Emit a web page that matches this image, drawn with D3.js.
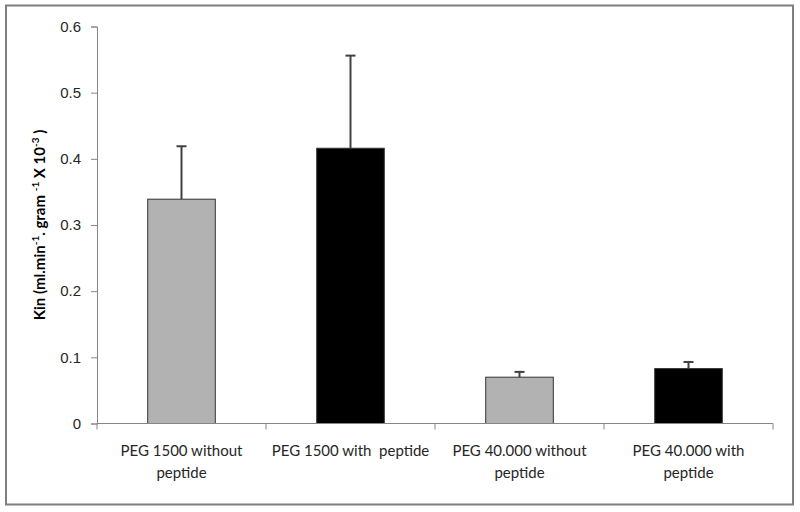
<!DOCTYPE html>
<html>
<head>
<meta charset="utf-8">
<script src="https://cdn.jsdelivr.net/npm/d3@7"></script>
<style>
  body { margin: 0; background: #fff; }
  svg { font-family: Lato, "Open Sans", sans-serif; }
</style>
</head>
<body>
<div id="chart"></div>
<script>
// categories (two-line labels), means and error bar tops
var categories = ["PEG 1500 without peptide", "PEG 1500 with peptide", "PEG 40.000 without peptide", "PEG 40.000 with peptide"];
var labelLines = [["PEG 1500 without", "peptide"], ["PEG 1500 with  peptide"], ["PEG 40.000 without", "peptide"], ["PEG 40.000 with", "peptide"]];
var values = [0.339, 0.416, 0.070, 0.083];
var errors = [0.080, 0.140, 0.008, 0.010];
var barColors = ["#b2b2b2", "#000000", "#b2b2b2", "#000000"];
var yTicks = [0, 0.1, 0.2, 0.3, 0.4, 0.5, 0.6];

var W = 800, H = 512;
var margin = {top: 26.5, right: 27, bottom: 88.5, left: 97};
var width = W - margin.left - margin.right,
    height = H - margin.top - margin.bottom;

var svg = d3.select("#chart").append("svg")
  .attr("width", W)
  .attr("height", H);

// outer frame
svg.append("rect")
  .attr("x", 6).attr("y", 5.5)
  .attr("width", 787).attr("height", 499)
  .attr("fill", "none")
  .attr("stroke", "#7f7f7f")
  .attr("stroke-width", 2);

var g = svg.append("g")
  .attr("transform", "translate(" + margin.left + "," + margin.top + ")");

var x = d3.scaleBand()
  .domain(categories)
  .range([0, width])
  .paddingInner(0.6)
  .paddingOuter(0.3);

var y = d3.scaleLinear()
  .domain([0, 0.6])
  .range([height, 0]);

// y axis
var yAxis = g.append("g")
  .call(d3.axisLeft(y).tickValues(yTicks).tickSize(6).tickPadding(10)
    .tickFormat(function(d) { return d === 0 ? "0" : d3.format(".1f")(d); }));
yAxis.select(".domain").attr("stroke", "#868686");
yAxis.selectAll(".tick line").attr("stroke", "#868686");
yAxis.selectAll(".tick text")
  .attr("fill", "#262626")
  .style("font-size", "15px");

// bars
g.selectAll("rect.bar")
  .data(categories)
  .enter().append("rect")
  .attr("class", "bar")
  .attr("x", function(d) { return x(d); })
  .attr("y", function(d, i) { return y(values[i]); })
  .attr("width", x.bandwidth())
  .attr("height", function(d, i) { return height - y(values[i]); })
  .attr("fill", function(d, i) { return barColors[i]; })
  .attr("stroke", "#333")
  .attr("stroke-width", 1);

// error bars (upper only)
var eb = g.selectAll("g.err")
  .data(categories)
  .enter().append("g")
  .attr("class", "err");
eb.append("line")
  .attr("x1", function(d) { return x(d) + x.bandwidth() / 2; })
  .attr("x2", function(d) { return x(d) + x.bandwidth() / 2; })
  .attr("y1", function(d, i) { return y(values[i]); })
  .attr("y2", function(d, i) { return y(values[i] + errors[i]); })
  .attr("stroke", "#404040")
  .attr("stroke-width", 2);
eb.append("line")
  .attr("x1", function(d) { return x(d) + x.bandwidth() / 2 - 5; })
  .attr("x2", function(d) { return x(d) + x.bandwidth() / 2 + 5; })
  .attr("y1", function(d, i) { return y(values[i] + errors[i]); })
  .attr("y2", function(d, i) { return y(values[i] + errors[i]); })
  .attr("stroke", "#404040")
  .attr("stroke-width", 2);

// x axis (category boundary ticks)
var xAxisG = g.append("g")
  .attr("transform", "translate(0," + height + ")");
xAxisG.append("line")
  .attr("x1", 0).attr("x2", width)
  .attr("stroke", "#868686");
var bounds = categories.map(function(d) { return x(d) - x.step() * x.paddingInner() / 2; });
bounds.push(width);
bounds[0] = 0;
xAxisG.selectAll("line.tk")
  .data(bounds)
  .enter().append("line")
  .attr("class", "tk")
  .attr("x1", function(d) { return d; })
  .attr("x2", function(d) { return d; })
  .attr("y1", 0).attr("y2", 6)
  .attr("stroke", "#868686");

// category labels
var lab = xAxisG.selectAll("text.cat")
  .data(categories)
  .enter().append("text")
  .attr("class", "cat")
  .attr("text-anchor", "middle")
  .attr("fill", "#262626")
  .style("font-size", "15px")
  .attr("transform", function(d) { return "translate(" + (x(d) + x.bandwidth() / 2) + ",32)"; });
lab.each(function(d, i) {
  var t = d3.select(this);
  labelLines[i].forEach(function(line, j) {
    t.append("tspan").attr("x", 0).attr("dy", j === 0 ? 0 : 22).attr("xml:space", "preserve").text(line);
  });
});

// y axis title
var yt = svg.append("text")
  .attr("transform", "translate(45," + (margin.top + height / 2) + ") rotate(-90)")
  .attr("text-anchor", "middle")
  .attr("fill", "#000")
  .style("font-size", "15px")
  .style("font-weight", "bold");
yt.append("tspan").text("Kin (ml.min");
yt.append("tspan").attr("dy", -6).style("font-size", "10px").text("-1");
yt.append("tspan").attr("dy", 6).attr("xml:space", "preserve").text(". gram ");
yt.append("tspan").attr("dy", -6).style("font-size", "10px").text("-1");
yt.append("tspan").attr("dy", 6).attr("xml:space", "preserve").text(" X 10");
yt.append("tspan").attr("dy", -6).style("font-size", "10px").text("-3");
yt.append("tspan").attr("dy", 6).attr("xml:space", "preserve").text(" )");
</script>
</body>
</html>
